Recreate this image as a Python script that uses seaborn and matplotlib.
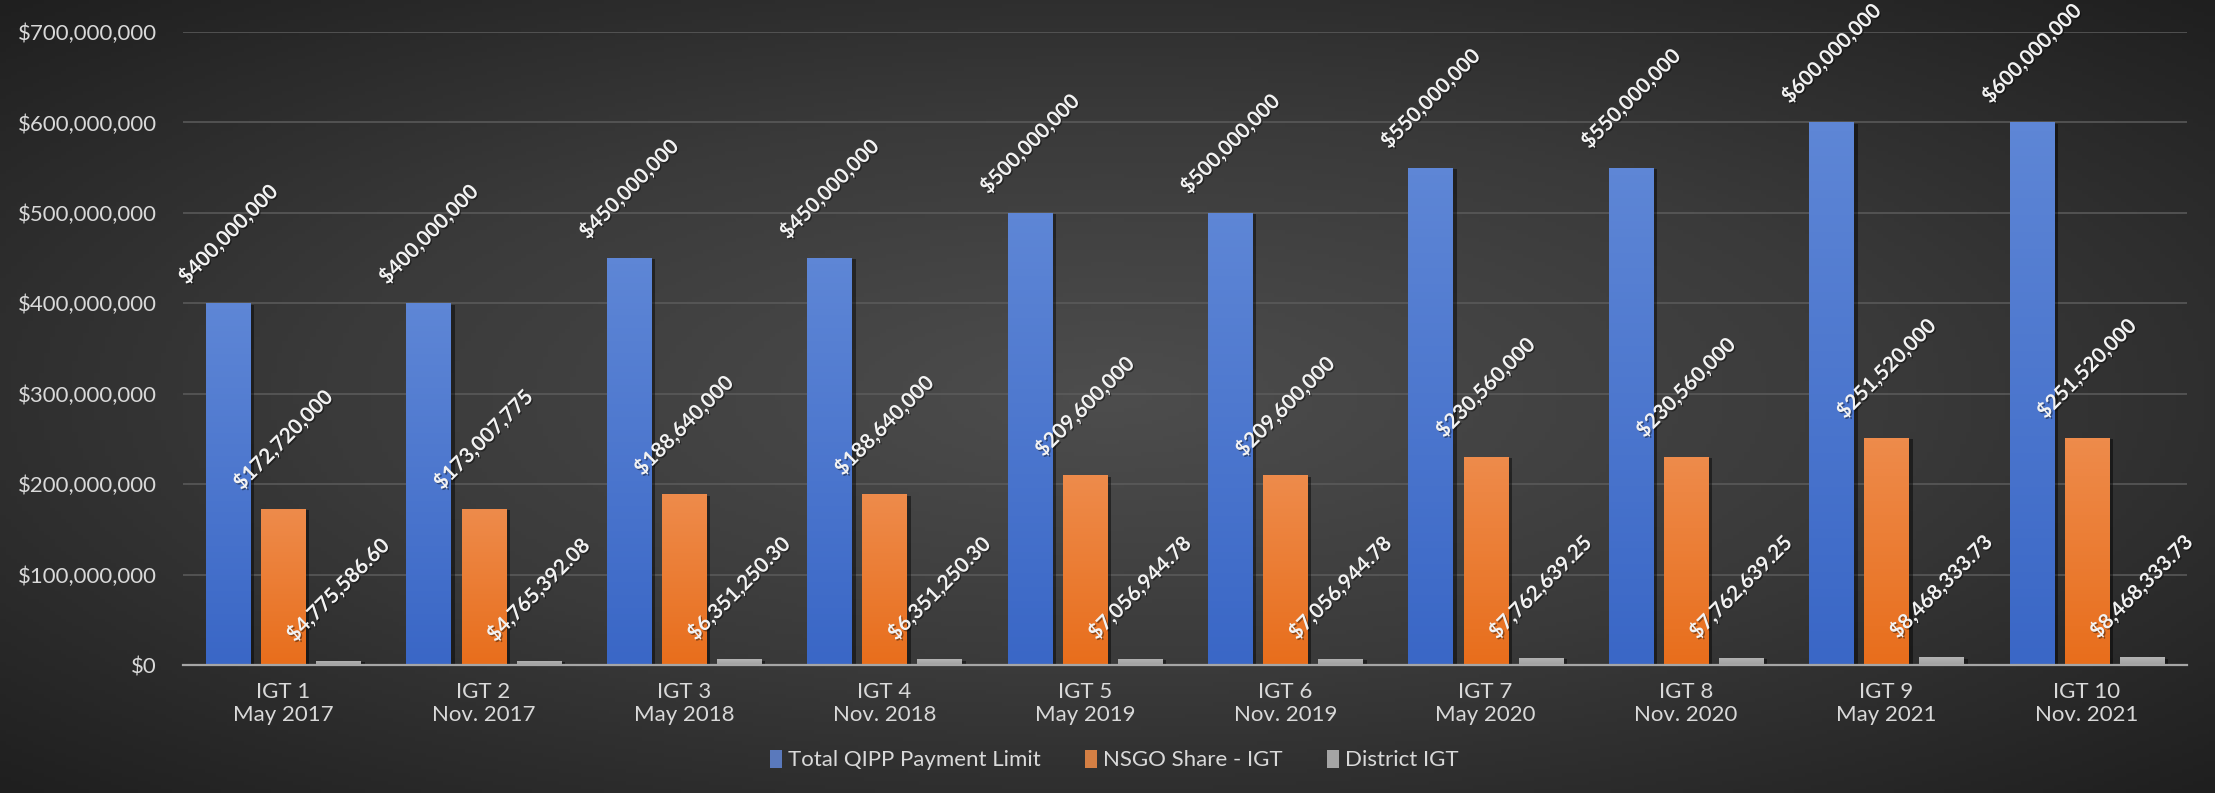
import numpy as np
import pandas as pd
import matplotlib
matplotlib.use("Agg")
import matplotlib.pyplot as plt
import matplotlib.patheffects as pe
from matplotlib.colors import LinearSegmentedColormap
import seaborn as sns

# ---- data ----
events = ["IGT 1\nMay 2017", "IGT 2\nNov. 2017", "IGT 3\nMay 2018", "IGT 4\nNov. 2018",
          "IGT 5\nMay 2019", "IGT 6\nNov. 2019", "IGT 7\nMay 2020", "IGT 8\nNov. 2020",
          "IGT 9\nMay 2021", "IGT 10\nNov. 2021"]
series_names = ["Total QIPP Payment Limit", "NSGO Share - IGT", "District IGT"]
total_qipp = [400000000, 400000000, 450000000, 450000000, 500000000,
              500000000, 550000000, 550000000, 600000000, 600000000]
nsgo_share = [172720000, 173007775, 188640000, 188640000, 209600000,
              209600000, 230560000, 230560000, 251520000, 251520000]
district_igt = [4775586.60, 4765392.08, 6351250.30, 6351250.30, 7056944.78,
                7056944.78, 7762639.25, 7762639.25, 8468333.73, 8468333.73]
y_ticks = [0, 100000000, 200000000, 300000000, 400000000, 500000000, 600000000, 700000000]

df = pd.DataFrame({
    "event": events * 3,
    "series": [series_names[0]] * 10 + [series_names[1]] * 10 + [series_names[2]] * 10,
    "value": total_qipp + nsgo_share + district_igt,
})

# ---- style ----
sns.set_theme(style="dark")
plt.rcParams["font.family"] = ["Lato", "DejaVu Sans"]
TXT = "#d9d9d9"
mid_colors = ["#4a73cc", "#ec7a2c", "#a5a5a5"]
grad = [("#5e86d6", "#3a67c6"), ("#ee8b4b", "#e86e1c"), ("#b4b4b4", "#a0a0a0")]

W, H = 2215, 793
fig = plt.figure(figsize=(W / 100, H / 100), dpi=100)
fig.patch.set_facecolor("#262626")

# radial background
bg = fig.add_axes([0, 0, 1, 1], zorder=-10)
xx, yy = np.meshgrid(np.linspace(-1, 1, 400), np.linspace(-1, 1, 200))
r = np.clip(np.sqrt(xx ** 2 + yy ** 2) / np.sqrt(2), 0, 1)
bg_cmap = LinearSegmentedColormap.from_list("bg", ["#4d4d4d", "#3a3a3a", "#1f1f1f"])
bg.imshow(r, cmap=bg_cmap, aspect="auto", extent=[0, 1, 0, 1], vmin=0, vmax=1)
bg.set_axis_off()

ax = fig.add_axes([183 / W, 1 - 665 / H, (2187 - 183) / W, (665 - 32) / H])
ax.set_facecolor("none")

sns.barplot(data=df, x="event", y="value", hue="series", hue_order=series_names,
            palette=mid_colors, width=0.825, gap=0.2, errorbar=None,
            linewidth=0, ax=ax)

ax.set_ylim(0, 700000000)
ax.set_xlim(-0.5, 9.5)

# gradients, shadows, labels
for cont, (top_c, bot_c), name in zip(ax.containers, grad, series_names):
    cmap = LinearSegmentedColormap.from_list("g", [bot_c, top_c])
    for bar in cont:
        x0, w, h = bar.get_x(), bar.get_width(), bar.get_height()
        bar.set_path_effects([pe.SimplePatchShadow(offset=(3, -1), shadow_rgbFace="black", alpha=0.45),
                              pe.Normal()])
        im = ax.imshow(np.linspace(0, 1, 64).reshape(-1, 1), cmap=cmap, origin="lower",
                       aspect="auto", extent=[x0, x0 + w, 0, h], zorder=bar.get_zorder() + 0.1)
        im.set_clip_path(bar)
        if name == "District IGT":
            lab = f"${h:,.2f}"
        else:
            lab = f"${h:,.0f}"
        ax.annotate(lab, (x0 + w / 2, h), xytext=(0, 11), textcoords="offset points",
                    ha="center", va="bottom", rotation=45, fontsize=15,
                    fontweight="bold", color="#f2f2f2", zorder=10, annotation_clip=False,
                    path_effects=[pe.withSimplePatchShadow(offset=(1, -1), shadow_rgbFace="black", alpha=0.4)])

ax.set_xlim(-0.5, 9.5)
ax.set_ylim(0, 700000000)
ax.set_aspect("auto")

ax.set_yticks(y_ticks)
ax.set_yticklabels([f"${v:,.0f}" for v in y_ticks])
ax.yaxis.grid(True, color="#5c5c5c", linewidth=1.1)
ax.xaxis.grid(False)
ax.set_axisbelow(True)
ax.tick_params(axis="y", length=0, pad=19, labelsize=16, labelcolor=TXT)
ax.tick_params(axis="x", length=0, pad=12, labelsize=16, labelcolor=TXT)
ax.set_xlabel("")
ax.set_ylabel("")
for s in ["top", "right", "left"]:
    ax.spines[s].set_visible(False)
ax.spines["bottom"].set_color("#a6a6a6")
ax.spines["bottom"].set_linewidth(1.6)

handles, labels = ax.get_legend_handles_labels()
if ax.get_legend() is not None:
    ax.get_legend().remove()
leg = fig.legend(handles, labels, loc="center", bbox_to_anchor=(0.503, 1 - 760 / H), ncol=3,
                 frameon=False, fontsize=16, handlelength=0.55, handleheight=0.9,
                 handletextpad=0.25, columnspacing=2.0)
for t in leg.get_texts():
    t.set_color(TXT)

fig.savefig("out.png", dpi=100, facecolor=fig.get_facecolor())
